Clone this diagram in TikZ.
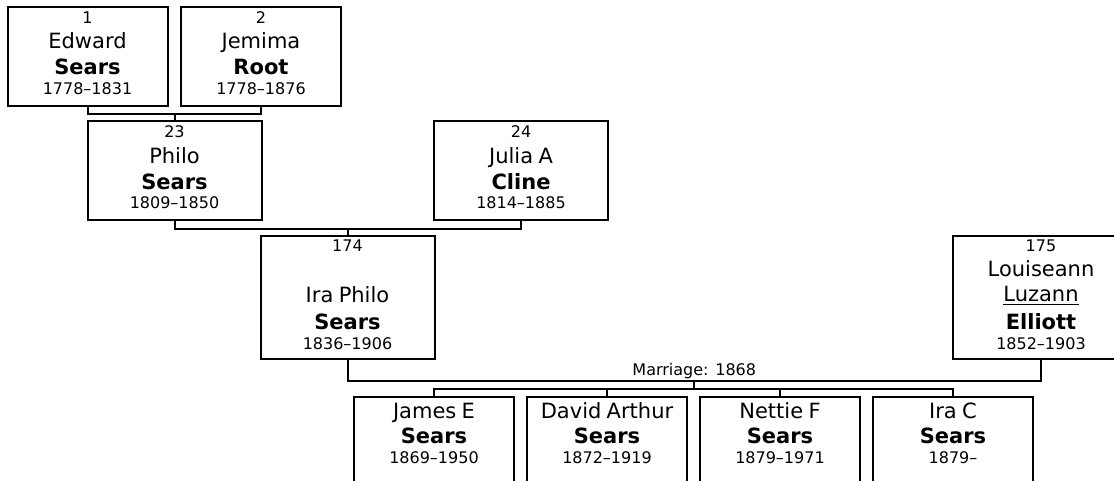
\documentclass[tikz,border=0pt]{standalone}
\usepackage{fontspec}
\setmainfont{DejaVu Sans}
\usetikzlibrary{positioning}
\newcommand{\forename}[1]{{\fontsize{15.75}{19.5}\selectfont #1}}
\newcommand{\famname}[1]{{\fontsize{15.75}{19.5}\selectfont\bfseries #1}}

\begin{document}
\begin{tikzpicture}[
  x=0.75pt, y=-0.75pt,
  node distance=10.125pt,
  person/.style={draw, rectangle, line width=1.5pt, anchor=north, inner sep=0pt, outer sep=0pt,
                 align=center, text width=120pt, text height=12.75pt, text depth=61.5pt,
                 font=\fontsize{12}{19.5}\selectfont},
  wideperson/.style={person, text width=130.5pt},
  child/.style={person, text height=15.75pt, text depth=60pt, node distance=9.75pt},
  link/.style={line width=1.5pt}
]
  \useasboundingbox (0,0) rectangle (1114,481);
  \clip (0,0) rectangle (1114,481);

  % grandparents
  \node[person] (edward) at (87.5,7) {1\\[-0.75pt] \forename{Edward}\\ \famname{Sears}\\[-4.5pt] 1778–1831};
  \node[person, right=of edward] (jemima) {2\\[-0.75pt] \forename{Jemima}\\ \famname{Root}\\[-4.5pt] 1778–1876};

  % parents
  \node[wideperson] (philo) at (174.5,121) {23\\ \forename{Philo}\\ \famname{Sears}\\[-5.25pt] 1809–1850};
  \node[wideperson] (julia) at (521,121) {24\\ \forename{Julia A}\\ \famname{Cline}\\[-5.25pt] 1814–1885};

  % couple
  \node[wideperson, text height=12pt, text depth=80.25pt] (iraphilo) at (347.5,236)
    {174\\[18.75pt] \forename{Ira Philo}\\[0.75pt] \famname{Sears}\\[-4.5pt] 1836–1906};
  \node[wideperson, text width=132pt, text height=12pt, text depth=80.25pt] (louiseann) at (1041,236)
    {175\\[-0.75pt] \forename{Louiseann}\\[-0.75pt] \forename{\underline{Luzann}}\\[1.5pt] \famname{Elliott}\\[-4.5pt] 1852–1903};

  % children
  \node[child] (james) at (434,397) {\forename{James E}\\[-0.75pt] \famname{Sears}\\[-4.5pt] 1869–1950};
  \node[child, right=of james] (david) {\forename{David Arthur}\\[-0.75pt] \famname{Sears}\\[-4.5pt] 1872–1919};
  \node[child, right=of david] (nettie) {\forename{Nettie F}\\[-0.75pt] \famname{Sears}\\[-4.5pt] 1879–1971};
  \node[child, right=of nettie] (irac) {\forename{Ira C}\\[-0.75pt] \famname{Sears}\\[-4.5pt] 1879–};

  \draw[link] (edward.south) -- ++(0,8) -| (jemima.south);
  \draw[link] (philo.north) -- ++(0,-7);
  \draw[link] (philo.south) -- ++(0,9) -| (julia.south);
  \draw[link] (iraphilo.north) -- ++(0,-8);
  \draw[link] (iraphilo.south) -- ++(0,22) coordinate (wedl) -- (wedl -| louiseann.south)
    node[midway, above=0pt, inner sep=0.75pt, font=\fontsize{12}{14}\selectfont] (wedding) {Marriage: 1868}
    coordinate[midway] (wedm) -- (louiseann.south);
  \draw[link] (james.north) -- ++(0,-8) coordinate (kidl) -| (irac.north);
  \draw[link] (wedm) -- (wedm |- kidl);
  \draw[link] (david.north) -- (david.north |- kidl);
  \draw[link] (nettie.north) -- (nettie.north |- kidl);
\end{tikzpicture}
\end{document}
